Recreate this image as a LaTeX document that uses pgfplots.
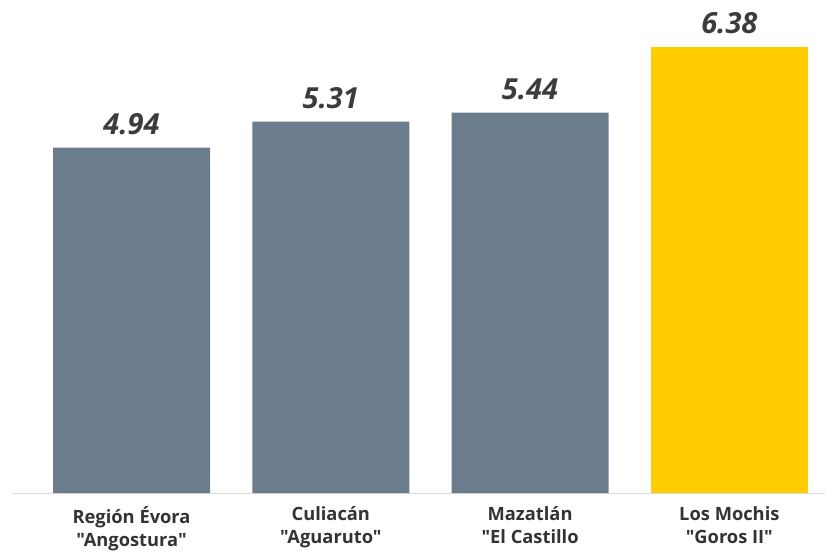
\documentclass[border=0pt]{standalone}
\usepackage{fontspec}
\setmainfont{Open Sans}
\setmonofont{Open Sans}
\usepackage{pgfplots}
\pgfplotsset{compat=1.18}
\definecolor{barg}{HTML}{6B7C8D}
\definecolor{bary}{HTML}{FFCC00}
\definecolor{txt}{HTML}{333333}
\definecolor{vtxt}{HTML}{3C3C3C}
\definecolor{baseln}{HTML}{DADADA}
\begin{document}
\begin{tikzpicture}
\useasboundingbox (0,0) rectangle (825pt,552pt);
\begin{axis}[
  at={(12pt,59pt)}, anchor=south west,
  scale only axis, width=813pt, height=493pt,
  xmin=-0.6, xmax=3.48, ymin=0, ymax=7.05,
  axis x line=bottom, axis y line=none,
  axis line style={baseln, line width=1pt, -},
  x axis line style={-},
  xtick={0,1,2,3},
  xticklabels={{Región Évora\\"Angostura"},{Culiacán\\"Aguaruto"},{Mazatlán\\"El Castillo},{Los Mochis\\"Goros II"}},
  major tick length=0pt,
  xticklabel style={align=center, text=txt, font=\fontsize{18.3}{23}\selectfont\ttfamily\bfseries, yshift=-10pt},
  ytick=\empty,
  clip=false,
  nodes near coords={\pgfmathprintnumber[fixed,fixed zerofill,precision=2,assume math mode=true]{\pgfplotspointmeta}},
  every node near coord/.append style={text=vtxt, font=\fontsize{29}{30}\selectfont\bfseries\itshape, anchor=south, yshift=9pt},
]
\addplot[ybar, bar width=157pt, bar shift=0pt, fill=barg, draw=none] coordinates {(0,4.94) (1,5.31) (2,5.44)};
\addplot[ybar, bar width=157pt, bar shift=0pt, fill=bary, draw=none] coordinates {(3,6.38)};
\end{axis}
\end{tikzpicture}
\end{document}
